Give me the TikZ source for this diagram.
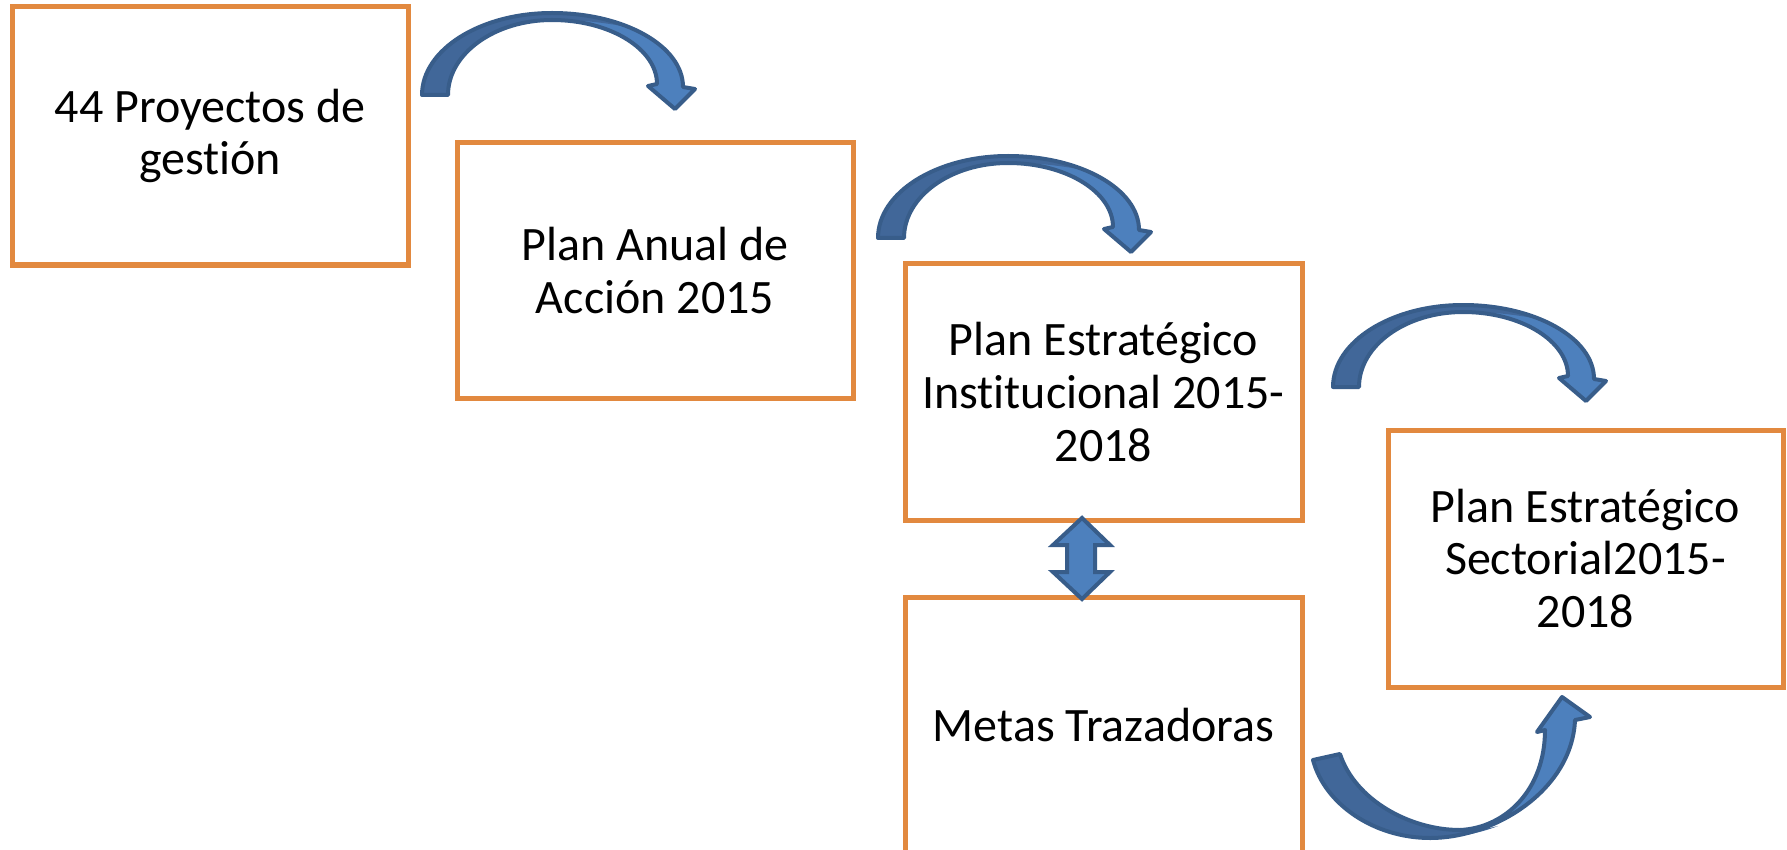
\documentclass[tikz,border=0pt]{standalone}
\usepackage{fontspec}
\setmainfont{Carlito}[Ligatures=NoCommon]
\definecolor{boxorange}{HTML}{E2893F}
\definecolor{arrdark}{HTML}{416799}
\definecolor{arrlight}{HTML}{4D80BD}
\definecolor{arrborder}{HTML}{385D8A}
\tikzset{
  box/.style={draw=boxorange, line width=5pt, fill=white, align=center,
    font=\fontsize{48pt}{52.7pt}\selectfont, inner sep=0pt},
  curvedown/.pic={
    \fill[arrlight] (0,0) .. controls (0,-45.3) and (58.2,-82) .. (130,-82)
      .. controls (202.3,-82) and (261,-48.9) .. (261,-8)
      -- (273,-6) -- (253,14) -- (226,-9) -- (235,-11)
      .. controls (235,-46) and (188,-75) .. (130,-75)
      .. controls (72.6,-75) and (26,-41.4) .. (26,0) -- cycle;
    \fill[arrdark] (0,0) .. controls (0,-45.3) and (58.2,-82) .. (130,-82)
      .. controls (160,-82) and (185,-77) .. (205,-68)
      .. controls (180,-73) and (150,-76) .. (125,-75)
      .. controls (70,-75) and (26,-41.4) .. (26,0) -- cycle;
    \draw[arrborder, line width=4pt, line join=round] (0,0) .. controls (0,-45.3) and (58.2,-82) .. (130,-82)
      .. controls (202.3,-82) and (261,-48.9) .. (261,-8)
      -- (273,-6) -- (253,14) -- (226,-9) -- (235,-11)
      .. controls (235,-46) and (188,-75) .. (130,-75)
      .. controls (72.6,-75) and (26,-41.4) .. (26,0) -- cycle;
  },
  curveup/.pic={
    \fill[arrlight] (0,0) .. controls (12,45) and (62,78) .. (117,78)
      .. controls (182,78) and (259,30) .. (262,-40)
      -- (277,-43) -- (249,-63) -- (224,-28) -- (232,-30)
      .. controls (232,30) and (192,68) .. (147,70)
      .. controls (97,70) and (42,40) .. (27,-6) -- cycle;
    \fill[arrdark] (0,0) .. controls (12,45) and (62,78) .. (117,78)
      .. controls (140,78) and (165,74) .. (185,66)
      .. controls (170,70) and (158,70) .. (147,70)
      .. controls (97,70) and (42,40) .. (27,-6) -- cycle;
    \draw[arrborder, line width=4pt, line join=round] (0,0) .. controls (12,45) and (62,78) .. (117,78)
      .. controls (182,78) and (259,30) .. (262,-40)
      -- (277,-43) -- (249,-63) -- (224,-28) -- (232,-30)
      .. controls (232,30) and (192,68) .. (147,70)
      .. controls (97,70) and (42,40) .. (27,-6) -- cycle;
  },
  updown/.pic={
    \filldraw[fill=arrlight, draw=arrborder, line width=4pt, line join=miter]
      (0,-40.5) -- (28,-13.5) -- (13,-13.5) -- (13,13.5) -- (28,13.5)
      -- (0,40.5) -- (-29,13.5) -- (-15,13.5) -- (-15,-13.5) -- (-29,-13.5) -- cycle;
  }
}
\begin{document}
\begin{tikzpicture}[x=1pt, y=-1pt]
\useasboundingbox (0,0) rectangle (1787,850);
\fill[white] (0,0) rectangle (1787,850);
\node[box, minimum width=396pt, minimum height=258pt] (b1) at (210,136) {44 Proyectos de\\gestión};
\node[box, minimum width=396pt, minimum height=255pt] (b2) at (655,270.5) {Plan Anual de\\Acción 2015};
\node[box, minimum width=397pt, minimum height=256pt] (b3) at (1103.5,392) {Plan Estratégico\\Institucional 2015-\\2018};
\node[box, minimum width=397pt, minimum height=256pt] (b4) at (1103.5,725) {Metas Trazadoras};
\node[box, minimum width=395pt, minimum height=257pt] (b5) at (1585.5,558.5) {Plan Estratégico\\Sectorial2015-\\2018};
\coordinate (a1) at (422,95);
\coordinate (a2) at (878,238);
\coordinate (a3) at (1333,387);
\coordinate (a4) at (1313,760);
\coordinate (a5) at (1082,558.5);
\pic at (a1) {curvedown};
\pic at (a2) {curvedown};
\pic at (a3) {curvedown};
\pic at (a4) {curveup};
\pic at (a5) {updown};
\end{tikzpicture}
\end{document}
